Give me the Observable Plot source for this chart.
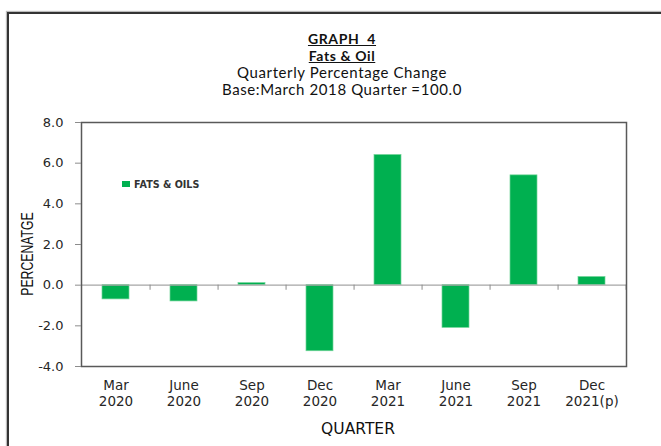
<!DOCTYPE html>
<html>
<head>
<meta charset="utf-8">
<script src="https://cdn.jsdelivr.net/npm/d3@7"></script>
<script src="https://cdn.jsdelivr.net/npm/@observablehq/plot@0.6"></script>
<style>
  html, body { margin: 0; padding: 0; background: #fff; overflow: hidden; }
  #wrap { position: relative; width: 661px; height: 446px; overflow: hidden; }
  #border { position: absolute; left: 7px; top: 12px; width: 800px; height: 600px;
            border-left: 2px solid #333; border-top: 2px solid #333;
            box-shadow: -1px -1px 1px #bbb; }
  .t { position: absolute; left: 342px; transform: translateX(-50%); white-space: nowrap;
       font-family: Lato, "Open Sans", sans-serif; color: #111; line-height: 1; }
  .b { font-weight: bold; text-decoration: underline; font-size: 14px; letter-spacing: 0.6px; }
  .r { font-size: 15px; letter-spacing: 0.6px; }
  #chart { position: absolute; left: 0; top: 100px; }
  #legend { position: absolute; left: 122px; top: 178px; height: 12px; font-family: "DejaVu Sans", sans-serif;
            font-size: 9.6px; font-weight: bold; color: #333; display: flex; align-items: center; }
  #legend span.sw { display: inline-block; width: 8px; height: 6px; background: #00b050; margin-right: 4px; }
  #ylab { position: absolute; left: 27px; top: 254px; transform: translate(-50%, -50%) rotate(-90deg) scaleX(0.72);
          white-space: nowrap; font-family: "Liberation Sans", sans-serif;
          font-size: 17px; color: #111; line-height: 1; }
</style>
</head>
<body>
<div id="wrap">
  <div id="border"></div>
  <div class="t b" style="top:31.5px">GRAPH&nbsp;&nbsp;4</div>
  <div class="t b" style="top:48.5px">Fats &amp; Oil</div>
  <div class="t r" style="top:65px">Quarterly Percentage Change</div>
  <div class="t r" style="top:82px">Base:March 2018 Quarter =100.0</div>
  <div id="chart"></div>
  <div id="legend"><span class="sw"></span><span id="legtext"></span></div>
  <div id="ylab"></div>
</div>
<script>
const quarters = ["Mar\n2020", "June\n2020", "Sep\n2020", "Dec\n2020", "Mar\n2021", "June\n2021", "Sep\n2021", "Dec\n2021(p)"];
const values = [-0.7, -0.8, 0.1, -3.25, 6.4, -2.1, 5.4, 0.4];
const yTicks = [-4, -2, 0, 2, 4, 6, 8];
const seriesName = "FATS & OILS";
const xTitle = "QUARTER";
const yTitle = "PERCENATGE";

document.getElementById("legtext").textContent = seriesName;
document.getElementById("ylab").textContent = yTitle;

const data = quarters.map((q, i) => ({q, v: values[i]}));

const W = 661, H = 346, mL = 81, mR = 35, mT = 22, mB = 80;
const step = (W - mL - mR) / quarters.length;

const chart = Plot.plot({
  width: W, height: H,
  marginLeft: mL, marginRight: mR, marginTop: mT, marginBottom: mB,
  style: {background: "transparent", fontFamily: "DejaVu Sans, sans-serif"},
  x: {domain: quarters, paddingInner: 0.6, paddingOuter: 0.3},
  y: {domain: [-4, 8]},
  marks: [
    Plot.barY(data, {x: "q", y: "v", fill: "#00b050", stroke: "#6fd497", strokeWidth: 0.7}),
    Plot.ruleY([0], {stroke: "#a6a6a6", strokeWidth: 1.2}),
    Plot.ruleX(quarters, {x: d => d, y1: 0, y2: -0.25, dx: step / 2, stroke: "#8c8c8c"}),
    Plot.frame({stroke: "#595959", strokeWidth: 1.5}),
    Plot.axisY(yTicks, {tickSize: 6, tickPadding: 12, stroke: "#8c8c8c", tickFormat: d => d.toFixed(1),
      fontSize: 13, fill: "#262626", label: null}),
    Plot.axisX({tickSize: 0, tickPadding: 12, fontSize: 13.5, lineHeight: 1.2, fill: "#262626", label: null}),
    Plot.text([xTitle], {frameAnchor: "bottom", text: d => d, dx: 4, dy: 67,
      fontSize: 15.5, fontFamily: "DejaVu Sans, sans-serif", fill: "#111"})
  ]
});
document.getElementById("chart").appendChild(chart);
</script>
</body>
</html>
